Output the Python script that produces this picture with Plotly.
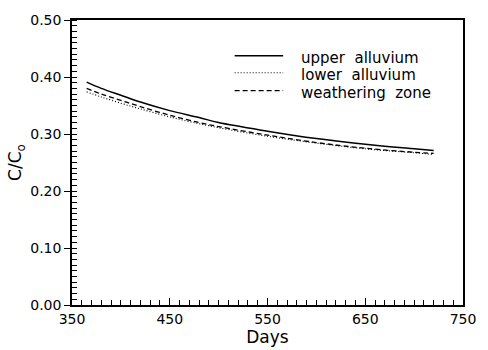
import plotly.graph_objects as go

days = [365, 380, 400, 420, 450, 480, 500, 550, 600, 650, 700, 720]
upper_alluvium = [0.391, 0.380, 0.368, 0.356, 0.341, 0.329, 0.320, 0.305, 0.292, 0.282, 0.274, 0.271]
lower_alluvium = [0.374, 0.365, 0.354, 0.344, 0.330, 0.318, 0.311, 0.296, 0.284, 0.274, 0.267, 0.264]
weathering_zone = [0.380, 0.370, 0.359, 0.348, 0.333, 0.320, 0.313, 0.298, 0.285, 0.275, 0.268, 0.266]

series_names = ["upper  alluvium", "lower  alluvium", "weathering  zone"]

FONT = "DejaVu Sans"

styles = [
    dict(color="black", width=1.5, dash="solid"),
    dict(color="black", width=1.1, dash="1px,2px"),
    dict(color="black", width=1.3, dash="5px,3px"),
]

fig = go.Figure()
for name, ys, st in zip(series_names, [upper_alluvium, lower_alluvium, weathering_zone], styles):
    fig.add_trace(go.Scatter(x=days, y=ys, mode="lines", name=name,
                             line=dict(shape="spline", **st)))

# hand-made legend (sample lines + labels) to match the reference layout
leg_y = [0.875, 0.815, 0.752]
for name, yy, st in zip(series_names, leg_y, styles):
    fig.add_shape(type="line", xref="paper", yref="paper", x0=0.416, x1=0.540, y0=yy, y1=yy,
                  line=st)
    fig.add_annotation(xref="paper", yref="paper", x=0.584, y=yy - 0.008, text=name,
                       showarrow=False, xanchor="left", yanchor="middle", borderpad=0,
                       font=dict(size=15, family=FONT))

fig.update_layout(
    width=488, height=350,
    margin=dict(l=72, r=12, t=12, b=42),
    paper_bgcolor="white", plot_bgcolor="white",
    font=dict(family=FONT, size=14, color="black"),
    showlegend=False,
    xaxis=dict(range=[350, 750], tickmode="linear", tick0=350, dtick=100,
               showgrid=False, zeroline=False, showline=True, linecolor="black", linewidth=1.5,
               mirror=True, ticks="inside", ticklen=7, tickwidth=1.3, tickcolor="black",
               minor=dict(dtick=10, tick0=350, ticks="inside", ticklen=5, tickwidth=1.3,
                          tickcolor="black", showgrid=False),
               title=dict(text="Days", font=dict(size=17, family=FONT), standoff=0),
               tickfont=dict(size=14, family=FONT)),
    yaxis=dict(range=[0, 0.5], tickmode="linear", tick0=0, dtick=0.1, tickformat=".2f",
               showgrid=False, zeroline=False, showline=True, linecolor="black", linewidth=1.5,
               mirror=True, ticks="outside", ticklen=6, tickwidth=1.3, tickcolor="black",
               minor=dict(dtick=0.01, tick0=0, ticks="inside", ticklen=5, tickwidth=1.3,
                          tickcolor="black", showgrid=False),
               title=dict(text="C/C<sub>o</sub>", font=dict(size=17, family=FONT), standoff=4),
               tickfont=dict(size=14, family=FONT)),
)

fig.write_html("out.html")
